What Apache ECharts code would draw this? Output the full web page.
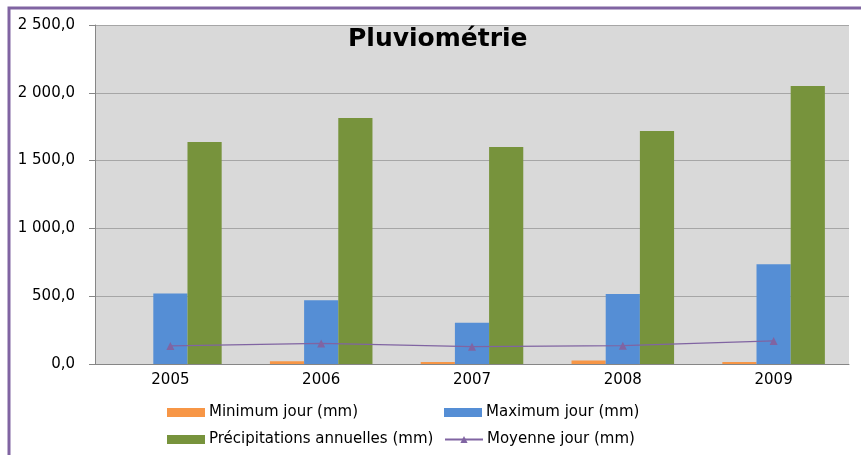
<!DOCTYPE html>
<html>
<head>
    <meta charset="utf-8">
    <title>Pluviométrie</title>
    <style>
        html, body { margin: 0; padding: 0; background: #fff; }
        #container { width: 861px; height: 455px; }
    </style>
</head>
<body>
    <div id="container"></div>
<script src="https://cdn.jsdelivr.net/npm/echarts@6/dist/echarts.min.js"></script>
<script type="text/javascript">
    // valeurs
    var years = ['2005', '2006', '2007', '2008', '2009'];
    var minJour = [0, 20, 15, 25, 15];
    var maxJour = [520, 470, 305, 516, 735];
    var precipAnnuelles = [1637, 1814, 1600, 1718, 2050];
    var moyenneJour = [133, 152, 128, 135, 170];
    var yTicks = { min: 0, max: 2500, interval: 500 };

    var font = 'DejaVu Sans';

    // 2500 -> "2 500,0"
    var fmt = function (v) {
        var s = v.toFixed(1).split('.');
        return s[0].replace(/\B(?=(\d{3})+(?!\d))/g, ' ') + ',' + s[1];
    };

    var legendItem = function (name, left, top, icon) {
        return {
            data: [{ name: name, icon: icon }],
            left: left,
            top: top,
            itemWidth: 38,
            itemHeight: 9,
            itemGap: 0,
            padding: 0,
            selectedMode: false,
            textStyle: { fontFamily: font, fontSize: 15, color: '#000', padding: [0, 0, 0, -1] }
        };
    };

    var myChart = echarts.init(document.getElementById('container'));
    var option = {
        animation: false,
        backgroundColor: '#fff',
        title: {
            text: 'Pluviométrie',
            left: 343,
            top: 22,
            textStyle: { fontFamily: font, fontWeight: 'bold', fontSize: 25, color: '#000' }
        },
        graphic: [{
            type: 'polyline',
            shape: { points: [[9, 455], [9, 8], [861, 8]] },
            style: { stroke: '#8064A2', lineWidth: 3, fill: null }
        }],
        legend: [
            legendItem('Minimum jour (mm)', 167, 405, 'rect'),
            legendItem('Maximum jour (mm)', 444, 405, 'rect'),
            legendItem('Précipitations annuelles (mm)', 167, 432, 'rect'),
            legendItem('Moyenne jour (mm)', 444, 432)
        ],
        grid: { left: 95, right: 12, top: 25, bottom: 91 },
        xAxis: {
            type: 'category',
            data: years,
            axisLine: { lineStyle: { color: '#868686', width: 1 } },
            axisTick: { length: 6, lineStyle: { color: '#868686' } },
            axisLabel: { fontFamily: font, fontSize: 15, color: '#000', margin: 9 }
        },
        yAxis: {
            type: 'value',
            min: yTicks.min,
            max: yTicks.max,
            interval: yTicks.interval,
            axisLine: { show: true, lineStyle: { color: '#868686' } },
            axisTick: { show: true, length: 6, lineStyle: { color: '#868686' } },
            axisLabel: { fontFamily: font, fontSize: 15, color: '#000', margin: 20, formatter: fmt },
            splitLine: { lineStyle: { color: '#A6A6A6', width: 1 } },
            splitArea: { show: true, areaStyle: { color: ['#D9D9D9', '#D9D9D9'] } }
        },
        series: [{
            name: 'Minimum jour (mm)',
            type: 'bar',
            data: minJour,
            barGap: '0%',
            barCategoryGap: '32%',
            itemStyle: { color: '#F79646' }
        }, {
            name: 'Maximum jour (mm)',
            type: 'bar',
            data: maxJour,
            itemStyle: { color: '#558ED5' }
        }, {
            name: 'Précipitations annuelles (mm)',
            type: 'bar',
            data: precipAnnuelles,
            itemStyle: { color: '#77933C' }
        }, {
            name: 'Moyenne jour (mm)',
            type: 'line',
            data: moyenneJour,
            symbol: 'triangle',
            symbolSize: 8,
            lineStyle: { color: '#8064A2', width: 1.2 },
            itemStyle: { color: '#8064A2' }
        }]
    };
    myChart.setOption(option, true);
</script>
</body>
</html>
